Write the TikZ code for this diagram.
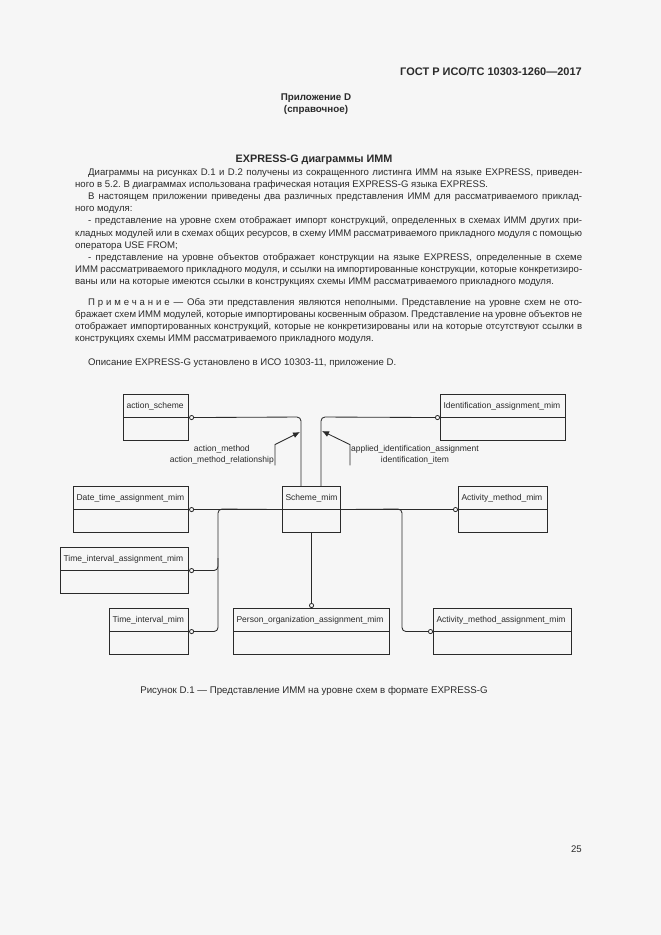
\documentclass[tikz,border=0pt]{standalone}
\usepackage{fontspec}
\setmainfont{Liberation Sans}
\usepackage{xcolor}
\usetikzlibrary{arrows.meta}
\definecolor{pagebg}{HTML}{F6F6F6}
\definecolor{ink}{HTML}{2A2A2A}
\frenchspacing
\tikzset{
  mim/.style={draw=ink, line width=1.1pt, rectangle, anchor=north west, minimum height=46pt,
    inner xsep=3pt, inner ysep=3pt, text height=10.5pt, text depth=29.5pt, align=left,
    text=ink, font=\fontsize{8.5}{10}\selectfont,
    path picture={\draw[ink, line width=1pt] (path picture bounding box.west) -- (path picture bounding box.east);}},
  conn/.style={draw=ink, line width=0.85pt, rounded corners=4pt,
    -{Circle[open, length=5pt, width=5pt, line width=0.8pt]}},
  lead/.style={draw=ink, line width=0.85pt, -{Latex[length=7pt, width=6pt]}},
  lbl/.style={font=\fontsize{8.5}{10.5}\selectfont, align=center, inner sep=1pt, text=ink},
  body/.style={inner sep=0pt, text=ink, font=\fontsize{9.6}{12.1}\selectfont, align=justify,
    text width=507pt, anchor=base west},
  head/.style={inner sep=0pt, text=ink, font=\bfseries\fontsize{9.8}{12}\selectfont, anchor=base}
}
\newcommand{\mimnode}[3]{node[mim, text width=#2](#1) {#3}}
\newcommand{\ind}{\hspace*{13pt}}

\begin{document}
\begin{tikzpicture}[x=1pt, y=-1pt]
\fill[pagebg] (0,0) rectangle (661,935);
% page heading
\node[head, anchor=base east, font=\bfseries\fontsize{11}{13}\selectfont] (gost) at (582,75) {ГОСТ Р ИСО/ТС 10303-1260—2017};
\node[head] (annex) at (316,100) {Приложение D};
\node[head] (annexkind) at (316,112) {(справочное)};
\node[head, font=\bfseries\fontsize{10.8}{13}\selectfont] (title) at (314,162) {EXPRESS-G диаграммы ИММ};
% text
\node[body] (intro) at (75,175.5) {\tolerance=9999 \hyphenpenalty=10000
\ind Диаграммы на рисунках D.1 и D.2 получены из сокращенного листинга ИММ на языке EXPRESS, приведен-\linebreak
ного в 5.2. В диаграммах использована графическая нотация EXPRESS-G языка EXPRESS.\par
\ind В настоящем приложении приведены два различных представления ИММ для рассматриваемого приклад-\linebreak
ного модуля:\par
\ind - представление на уровне схем отображает импорт конструкций, определенных в схемах ИММ других при-\linebreak
кладных модулей или в схемах общих ресурсов, в схему ИММ рассматриваемого прикладного модуля с помощью\linebreak
оператора USE FROM;\par
\ind - представление на уровне объектов отображает конструкции на языке EXPRESS, определенные в схеме\linebreak
ИММ рассматриваемого прикладного модуля, и ссылки на импортированные конструкции, которые конкретизиро-\linebreak
ваны или на которые имеются ссылки в конструкциях схемы ИММ рассматриваемого прикладного модуля.};
\node[body] (note) at (75,305.5) {\tolerance=9999 \hyphenpenalty=10000
\ind{\addfontfeature{LetterSpace=30}Примечание} — Оба эти представления являются неполными. Представление на уровне схем не ото-\linebreak
бражает схем ИММ модулей, которые импортированы косвенным образом. Представление на уровне объектов не\linebreak
отображает импортированных конструкций, которые не конкретизированы или на которые отсутствуют ссылки в\linebreak
конструкциях схемы ИММ рассматриваемого прикладного модуля.};
\node[body] (descr) at (75,365.5) {\ind Описание EXPRESS-G установлено в ИСО 10303-11, приложение D.};

% entities
\draw (123,394) \mimnode{actsch}{59pt}{action\_scheme};
\draw (440,394) \mimnode{ident}{119pt}{Identification\_assignment\_mim};
\draw (73,486) \mimnode{dta}{109pt}{Date\_time\_assignment\_mim};
\draw (282,486) \mimnode{sch}{52pt}{Scheme\_mim};
\draw (458,486) \mimnode{actm}{83pt}{Activity\_method\_mim};
\draw (60,547) \mimnode{tia}{122pt}{Time\_interval\_assignment\_mim};
\draw (109,608) \mimnode{tim}{73pt}{Time\_interval\_mim};
\draw (233,608) \mimnode{pers}{150pt}{Person\_organization\_assignment\_mim};
\draw (433,608) \mimnode{acta}{132pt}{Activity\_method\_assignment\_mim};

% references
\coordinate (up1) at (301,417);
\coordinate (up2) at (321,417);
\coordinate (lt) at (218,509);
\coordinate (lm) at (218,558);
\coordinate (rt) at (402,509);
\draw[conn] (sch.north -| up1) -- (up1) -- (actsch.east);
\draw[conn] (sch.north -| up2) -- (up2) -- (ident.west);
\draw[conn] (sch.west) -- (dta.east);
\draw[conn] (sch.west) -- (lt) -- (lt |- tim.east) -- (tim.east);
\draw[conn] (lm) -- (lm |- tia.east) -- (tia.east);
\draw[conn] (sch.south) -- (pers.north);
\draw[conn] (sch.east) -- (actm.west);
\draw[conn] (sch.east) -- (rt) -- (rt |- acta.west) -- (acta.west);

% imported items
\node[lbl, anchor=east] (amlbl) at (275,455) {action\_method\\action\_method\_relationship};
\node[lbl, anchor=west] (ailbl) at (350,455) {applied\_identification\_assignment\\identification\_item};
\coordinate (amtip) at (300,432);
\coordinate (aitip) at (322,431);
\draw[lead] (amlbl.south east) -- (amlbl.north east) -- (amtip);
\draw[lead] (ailbl.south west) -- (ailbl.north west) -- (aitip);

% caption and page number
\node[inner sep=0pt, text=ink, font=\fontsize{9.7}{12}\selectfont, anchor=base] (caption) at (314,693) {Рисунок D.1 — Представление ИММ на уровне схем в формате EXPRESS-G};
\node[inner sep=0pt, text=ink, font=\fontsize{9.6}{12}\selectfont, anchor=base east] (pagenum) at (582,852.5) {25};
\end{tikzpicture}
\end{document}
